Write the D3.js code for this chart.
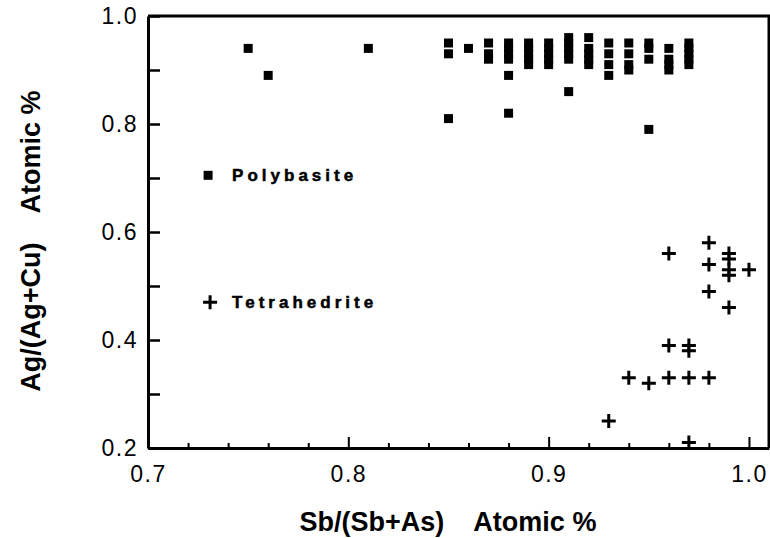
<!DOCTYPE html>
<html>
<head>
<meta charset="utf-8">
<script src="https://cdn.jsdelivr.net/npm/d3@7"></script>
<style>
body{margin:0;background:#fff;}
svg{display:block;}
</style>
</head>
<body>
<div id="visContainer"></div>
<script>
'use strict';

// polybasite analyses (squares)
var polyX = [0.75,0.76,0.81,0.85,0.85,0.85,0.86,0.87,0.87,0.87,
             0.88,0.88,0.88,0.88,0.88,0.88,
             0.89,0.89,0.89,0.89,0.89,
             0.90,0.90,0.90,0.90,0.90,
             0.91,0.91,0.91,0.91,0.91,0.91,
             0.92,0.92,0.92,0.92,0.92,
             0.93,0.93,0.93,0.93,
             0.94,0.94,0.94,0.94,
             0.95,0.95,0.95,0.95,
             0.96,0.96,0.96,0.96,
             0.97,0.97,0.97,0.97,0.97];
var polyY = [0.94,0.89,0.94,0.81,0.95,0.93,0.94,0.95,0.93,0.92,
             0.95,0.94,0.93,0.92,0.89,0.82,
             0.95,0.94,0.93,0.92,0.91,
             0.95,0.94,0.93,0.92,0.91,
             0.96,0.95,0.94,0.93,0.92,0.86,
             0.96,0.94,0.93,0.92,0.91,
             0.95,0.93,0.91,0.89,
             0.95,0.93,0.91,0.90,
             0.95,0.94,0.92,0.79,
             0.94,0.92,0.91,0.90,
             0.95,0.94,0.93,0.92,0.91];

// tetrahedrite analyses (plus signs)
var tetraX = [0.96,0.98,0.98,0.99,0.99,0.99,0.99,1.00,0.98,0.99,
              0.96,0.97,0.97,0.94,0.95,0.96,0.97,0.98,0.93,0.97];
var tetraY = [0.56,0.58,0.54,0.56,0.55,0.53,0.52,0.53,0.49,0.46,
              0.39,0.39,0.38,0.33,0.32,0.33,0.33,0.33,0.25,0.21];

var xMajor = [0.7,0.8,0.9,1.0];
var xMinor = [0.72,0.74,0.76,0.78,0.82,0.84,0.86,0.88,0.92,0.94,0.96,0.98];
var yTicks = [0.2,0.3,0.4,0.5,0.6,0.7,0.8,0.9,1.0];
var yLabels = [0.2,0.4,0.6,0.8,1.0];

var legendNames = ["Polybasite","Tetrahedrite"];
var legendX = 0.73;
var legendY = [0.705,0.47];

var width = 770, height = 538;
var margin = {top: 16, right: 1, bottom: 90, left: 148};

var x = d3.scaleLinear().domain([0.7,1.01]).range([margin.left, width-margin.right]);
var y = d3.scaleLinear().domain([0.2,1.0]).range([height-margin.bottom, margin.top]);

var svg = d3.select('#visContainer')
    .append('svg')
    .attr('width', width)
    .attr('height', height);

// frame top and right
svg.append('path')
    .attr('d', 'M'+x(0.7)+','+y(1.0)+'H'+x(1.01)+'V'+y(0.2))
    .attr('fill','none')
    .attr('stroke','#000')
    .attr('stroke-width',3);

var fmt = d3.format('.1f');

function tickText(g){
    g.selectAll('text')
     .style('font-family','"Liberation Sans",Arial,sans-serif')
     .style('font-size','23px')
     .style('letter-spacing','1.5px')
     .style('fill','#000');
}

// x axis: minor then major ticks, pointing inward
svg.append('g')
    .attr('transform','translate(0,'+y(0.2)+')')
    .call(d3.axisBottom(x).tickValues(xMinor).tickSize(-5).tickFormat(''))
    .call(function(g){g.select('.domain').remove();})
    .selectAll('line').attr('stroke-width',2);

var xAxis = svg.append('g')
    .attr('transform','translate(0,'+y(0.2)+')')
    .call(d3.axisBottom(x).tickValues(xMajor).tickSize(-11).tickSizeOuter(0).tickPadding(18).tickFormat(fmt))
    .call(tickText);
xAxis.select('.domain').attr('stroke-width',3);
xAxis.selectAll('line').attr('stroke-width',2);

var yAxis = svg.append('g')
    .attr('transform','translate('+x(0.7)+',0)')
    .call(d3.axisLeft(y).tickValues(yTicks).tickSize(-12).tickSizeOuter(0).tickPadding(10)
        .tickFormat(function(d){return yLabels.indexOf(d)>=0 ? fmt(d) : '';}))
    .call(tickText);
yAxis.select('.domain').attr('stroke-width',3);
yAxis.selectAll('line').attr('stroke-width',2.5);

// polybasite squares
var poly = [];
for(var i=0; i<polyX.length; i++){
    poly.push([polyX[i], polyY[i]]);
}
svg.append('g').selectAll('rect')
    .data(poly)
  .enter().append('rect')
    .attr('x', function(d){return x(d[0])-4.5;})
    .attr('y', function(d){return y(d[1])-4.5;})
    .attr('width',9)
    .attr('height',9)
    .attr('fill','#000');

// tetrahedrite plusses
var tetra = [];
for(var j=0; j<tetraX.length; j++){
    tetra.push([tetraX[j], tetraY[j]]);
}
var plus = 'M-7,0H7M0,-7V7';
svg.append('g').selectAll('path')
    .data(tetra)
  .enter().append('path')
    .attr('transform', function(d){return 'translate('+x(d[0])+','+y(d[1])+')';})
    .attr('d', plus)
    .attr('stroke','#000')
    .attr('stroke-width',3);

// legend
svg.append('rect')
    .attr('x', x(legendX)-4.5)
    .attr('y', y(legendY[0])-4.5)
    .attr('width',9)
    .attr('height',9)
    .attr('fill','#000');
svg.append('path')
    .attr('transform','translate('+(x(legendX)+2)+','+y(legendY[1])+')')
    .attr('d', plus)
    .attr('stroke','#000')
    .attr('stroke-width',3);
svg.append('g').selectAll('text')
    .data(legendNames)
  .enter().append('text')
    .attr('x', x(legendX)+24)
    .attr('y', function(d,i){return y(legendY[i]);})
    .attr('dy','0.36em')
    .style('font-family','"Liberation Sans",Arial,sans-serif')
    .style('font-weight','bold')
    .style('font-size','17px')
    .style('letter-spacing','4px')
    .style('stroke','#000')
    .style('stroke-width','0.5px')
    .text(function(d){return d;});

// axis titles
svg.append('text')
    .attr('x', 448)
    .attr('y', 531)
    .attr('text-anchor','middle')
    .style('font-family','"Liberation Sans",Arial,sans-serif')
    .style('font-weight','bold')
    .style('font-size','27px')
    .style('white-space','pre')
    .text('Sb/(Sb+As)    Atomic %');

svg.append('text')
    .attr('transform','translate(40,241) rotate(-90)')
    .attr('text-anchor','middle')
    .style('font-family','"Liberation Sans",Arial,sans-serif')
    .style('font-weight','bold')
    .style('font-size','27px')
    .style('white-space','pre')
    .text('Ag/(Ag+Cu)    Atomic %');
</script>
</body>
</html>
